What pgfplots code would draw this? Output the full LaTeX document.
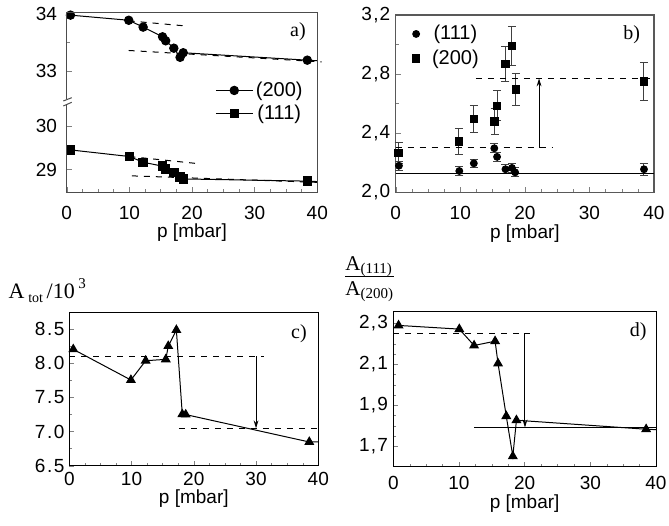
\documentclass[border=0pt]{standalone}
\usepackage{fontspec}
\setmainfont{Liberation Serif}
\newfontfamily\arial{Liberation Sans}
\usepackage{pgfplots}
\pgfplotsset{compat=1.18}
\usetikzlibrary{arrows.meta}

\pgfplotsset{
  panel/.style={
    scale only axis, anchor=north west, xmin=0, xmax=40,
    tick pos=left, tick align=inside,
    major tick length=2.5pt, minor tick length=1.5pt,
    xtick={0,10,20,30,40}, minor x tick num=3,
    tick label style={font=\arial\fontsize{9.5}{11}\selectfont},
    /pgf/number format/assume math mode=true,
    label style={font=\arial\fontsize{9.5}{11}\selectfont},
    yticklabel style={anchor=east, inner sep=0pt},
    xticklabel style={anchor=center, inner sep=0pt},
    xlabel style={at={(axis description cs:0.5,0)}, anchor=center},
    clip=false,
    every axis plot/.append style={line width=0.5pt},
  },
  arr/.style={-{Stealth[length=4pt,width=2.4pt]}},
}

\begin{document}
\begin{tikzpicture}
\path[use as bounding box] (0,0) rectangle (334.5pt,-262.5pt);

% ---- a) upper part
\begin{axis}[panel, at={(33.35pt,-6pt)}, width=125.3pt, height=45pt,
  ymin=32.456, ymax=34.035, ytick={33,34}, minor ytick={33.5},
  xtick=\empty, axis line style={draw=none},
  yticklabel style={xshift=-4.7pt},
  legend style={at={(axis description cs:0.592,0)}, anchor=west, draw=none, fill=none,
    inner sep=0pt, nodes={inner sep=1.4pt}, row sep=0pt,
    font=\arial\fontsize{10}{12}\selectfont},
  legend image code/.code={\draw[mark repeat=2,mark phase=2,#1] plot coordinates {(0pt,0pt)(9.15pt,0pt)(18.3pt,0pt)};},
]
\addplot[black, mark=*, mark size=2.1pt] coordinates {
  (0.6,33.98) (9.9,33.89) (12.2,33.77) (15.3,33.60) (15.8,33.53)
  (17.1,33.40) (18.1,33.24) (18.6,33.32) (38.4,33.19)};
\addlegendentry{(200)}
\addlegendimage{black, mark=square*, mark size=2.1pt}
\addlegendentry{(111)}
\addplot[black, forget plot] coordinates {(38.4,33.19) (40,33.18)};
\addplot[black, dashed, forget plot] coordinates {(9.9,33.88) (19.0,33.79)};
\addplot[black, dashed, forget plot] coordinates {(9.9,33.36) (40.7,33.16)};
\end{axis}

% ---- a) lower part
\begin{axis}[panel, at={(33.35pt,-51pt)}, width=125.3pt, height=45.15pt,
  ymin=28.486, ymax=30.539, ytick={29,30}, minor ytick={29.5},
  axis line style={draw=none},
  yticklabel style={xshift=-4.7pt},
  xticklabel style={yshift=-10.35pt},
  xlabel={p [mbar]}, xlabel style={yshift=-20.3pt},
]
\addplot[black, mark=square*, mark size=2.1pt] coordinates {
  (0.6,29.45) (10,29.30) (12.2,29.17) (15.3,29.08) (15.8,29.02)
  (17.1,28.93) (18.1,28.83) (18.6,28.79) (38.4,28.74)};
\addplot[black] coordinates {(38.4,28.74) (40,28.73)};
\addplot[black, dashed] coordinates {(10,29.30) (20.5,29.145)};
\addplot[black, dashed] coordinates {(10.4,28.86) (40.5,28.71)};
\end{axis}

% frame of a) with axis break
\draw[gray!60!black, line width=0.5pt] (33.35pt,-49.5pt) -- (33.35pt,-6pt) -- (158.65pt,-6pt)
  -- (158.65pt,-96.15pt) -- (33.35pt,-96.15pt) -- (33.35pt,-52.5pt);
\draw[gray!60!black, line width=0.5pt] (31.65pt,-50.5pt) -- (35.85pt,-48.85pt);
\draw[gray!60!black, line width=0.5pt] (31.65pt,-53pt) -- (35.85pt,-51.15pt);

% ---- b)
\begin{axis}[panel, at={(197.85pt,-7.5pt)}, width=129.15pt, height=88.65pt,
  ymin=2.0, ymax=3.2, ytick={2.0,2.4,2.8,3.2}, minor y tick num=1,
  axis line style={gray!70!black, line width=0.7pt},
  yticklabel style={xshift=-2.5pt},
  xticklabel style={yshift=-10.5pt},
  xlabel={p [mbar]}, xlabel style={yshift=-20.5pt},
  legend style={at={(axis description cs:0.03,0.8235)}, anchor=west, draw=none, fill=none,
    inner sep=0pt, nodes={inner sep=1.8pt}, row sep=0pt,
    font=\arial\fontsize{10}{12}\selectfont},
  legend image code/.code={\path (0pt,0pt) (11.8pt,0pt);
    \draw[mark repeat=2,mark phase=2,#1] plot coordinates {(0pt,0pt)(5.9pt,0pt)(11.8pt,0pt)};},
  y tick label style={/pgf/number format/fixed, /pgf/number format/fixed zerofill,
    /pgf/number format/precision=1, /pgf/number format/dec sep={\kern0.6pt,\kern0.6pt}},
]
\addplot[black, only marks, mark=*, mark size=1.7pt,
  error bars/.cd, y dir=both, y explicit,
  error bar style={black!75, line width=0.5pt},
  error mark options={black!75, mark size=2pt, line width=0.5pt, rotate=90}]
  coordinates {
  (0.5,2.18) +- (0,0.03) (9.85,2.144) +- (0,0.03) (12.1,2.196) +- (0,0.025)
  (15.27,2.298) +- (0,0.03) (15.7,2.24) +- (0,0.03) (17.0,2.156) +- (0,0.03)
  (18.0,2.165) +- (0,0.03) (18.5,2.135) +- (0,0.03) (38.45,2.156) +- (0,0.04)};
\addlegendentry{(111)}
\addplot[black, only marks, mark=square*, mark size=1.85pt,
  error bars/.cd, y dir=both, y explicit,
  error bar style={black!75, line width=0.5pt},
  error mark options={black!75, mark size=2pt, line width=0.5pt, rotate=90}]
  coordinates {
  (0.46,2.266) +- (0,0.07) (9.8,2.345) +- (0,0.09) (12.1,2.496) +- (0,0.09)
  (15.3,2.478) +- (0,0.09) (15.7,2.586) +- (0,0.10) (17.0,2.868) +- (0,0.12)
  (18.0,2.99) +- (0,0.13) (18.6,2.697) +- (0,0.11) (38.45,2.749) +- (0,0.13)};
\addlegendentry{(200)}
\addplot[black, forget plot] coordinates {(0,2.128) (40,2.128)};
\addplot[black, dashed, forget plot] coordinates {(0,2.30) (24.2,2.30)};
\addplot[black, dashed, forget plot] coordinates {(12.4,2.771) (40,2.771)};
\addplot[black, arr, forget plot] coordinates {(22.2,2.30) (22.2,2.771)};
\end{axis}

% ---- c)
\begin{axis}[panel, at={(34.65pt,-156.15pt)}, width=124.5pt, height=76.7pt,
  ymin=6.5, ymax=8.75, ytick={6.5,7,7.5,8,8.5}, minor y tick num=1,
  yticklabel style={xshift=-2.2pt},
  xticklabel style={yshift=-6.8pt},
  xlabel={p [mbar]}, xlabel style={yshift=-16.4pt},
  y tick label style={/pgf/number format/fixed, /pgf/number format/fixed zerofill,
    /pgf/number format/precision=1, /pgf/number format/dec sep={\kern0.8pt.\kern0.8pt}},
]
\addplot[black, mark=triangle*, mark size=2.4pt] coordinates {
  (0.64,8.207) (9.9,7.757) (12.27,8.04) (15.5,8.06) (15.9,8.255)
  (17.2,8.49) (18.15,7.254) (18.7,7.25) (38.55,6.848)};
\addplot[black] coordinates {(38.55,6.848) (40,6.85)};
\addplot[black, dashed] coordinates {(0,8.108) (31.2,8.108)};
\addplot[black, dashed] coordinates {(17.6,7.048) (40,7.048)};
\addplot[black, arr] coordinates {(30,8.108) (30,7.048)};
\end{axis}

% ---- d)
\begin{axis}[panel, at={(196.65pt,-155.85pt)}, width=131.35pt, height=77.5pt,
  ymin=1.6, ymax=2.357, ytick={1.7,1.9,2.1,2.3}, minor y tick num=3,
  yticklabel style={xshift=-2.5pt},
  xticklabel style={yshift=-8.3pt},
  xlabel={p [mbar]}, xlabel style={yshift=-18.6pt},
  y tick label style={/pgf/number format/fixed, /pgf/number format/fixed zerofill,
    /pgf/number format/precision=1, /pgf/number format/dec sep={\kern0.6pt,\kern0.6pt}},
]
\addplot[black, mark=triangle*, mark size=2.4pt] coordinates {
  (0.8,2.29) (10.05,2.272) (12.3,2.192) (15.5,2.213) (15.95,2.104)
  (17.2,1.847) (18.2,1.651) (18.75,1.827) (38.5,1.783)};
\addplot[black] coordinates {(38.5,1.783) (40,1.781)};
\addplot[black, dashed] coordinates {(0,2.251) (20.8,2.251)};
\addplot[black] coordinates {(12.3,1.791) (40,1.791)};
\addplot[black, arr] coordinates {(20.05,2.251) (20.05,1.791)};
\end{axis}

% panel letters and axis titles
\node[font=\fontsize{10}{12}\selectfont] at (149pt,-16pt) {a)};
\node[font=\fontsize{10}{12}\selectfont] at (315.85pt,-17.15pt) {b)};
\node[font=\fontsize{10}{12}\selectfont] at (149.5pt,-167pt) {c)};
\node[font=\fontsize{10}{12}\selectfont] at (319.15pt,-165.85pt) {d)};

\node[anchor=base west, inner sep=0pt, font=\fontsize{11}{13}\selectfont] at (4.15pt,-149.15pt)
  {A\,\raisebox{-2pt}{\fontsize{7}{8}\selectfont tot}\,/10\,\raisebox{5pt}{\fontsize{7.5}{9}\selectfont 3}};

\node[anchor=base west, inner sep=0pt, font=\fontsize{10.5}{12}\selectfont] at (172.5pt,-135pt)
  {A\raisebox{-1.5pt}{\fontsize{7.5}{9}\selectfont (111)}};
\draw[line width=0.5pt] (172.5pt,-138pt) -- (197pt,-138pt);
\node[anchor=base west, inner sep=0pt, font=\fontsize{10.5}{12}\selectfont] at (172.5pt,-147.5pt)
  {A\raisebox{-1.5pt}{\fontsize{7.5}{9}\selectfont (200)}};
\end{tikzpicture}
\end{document}
